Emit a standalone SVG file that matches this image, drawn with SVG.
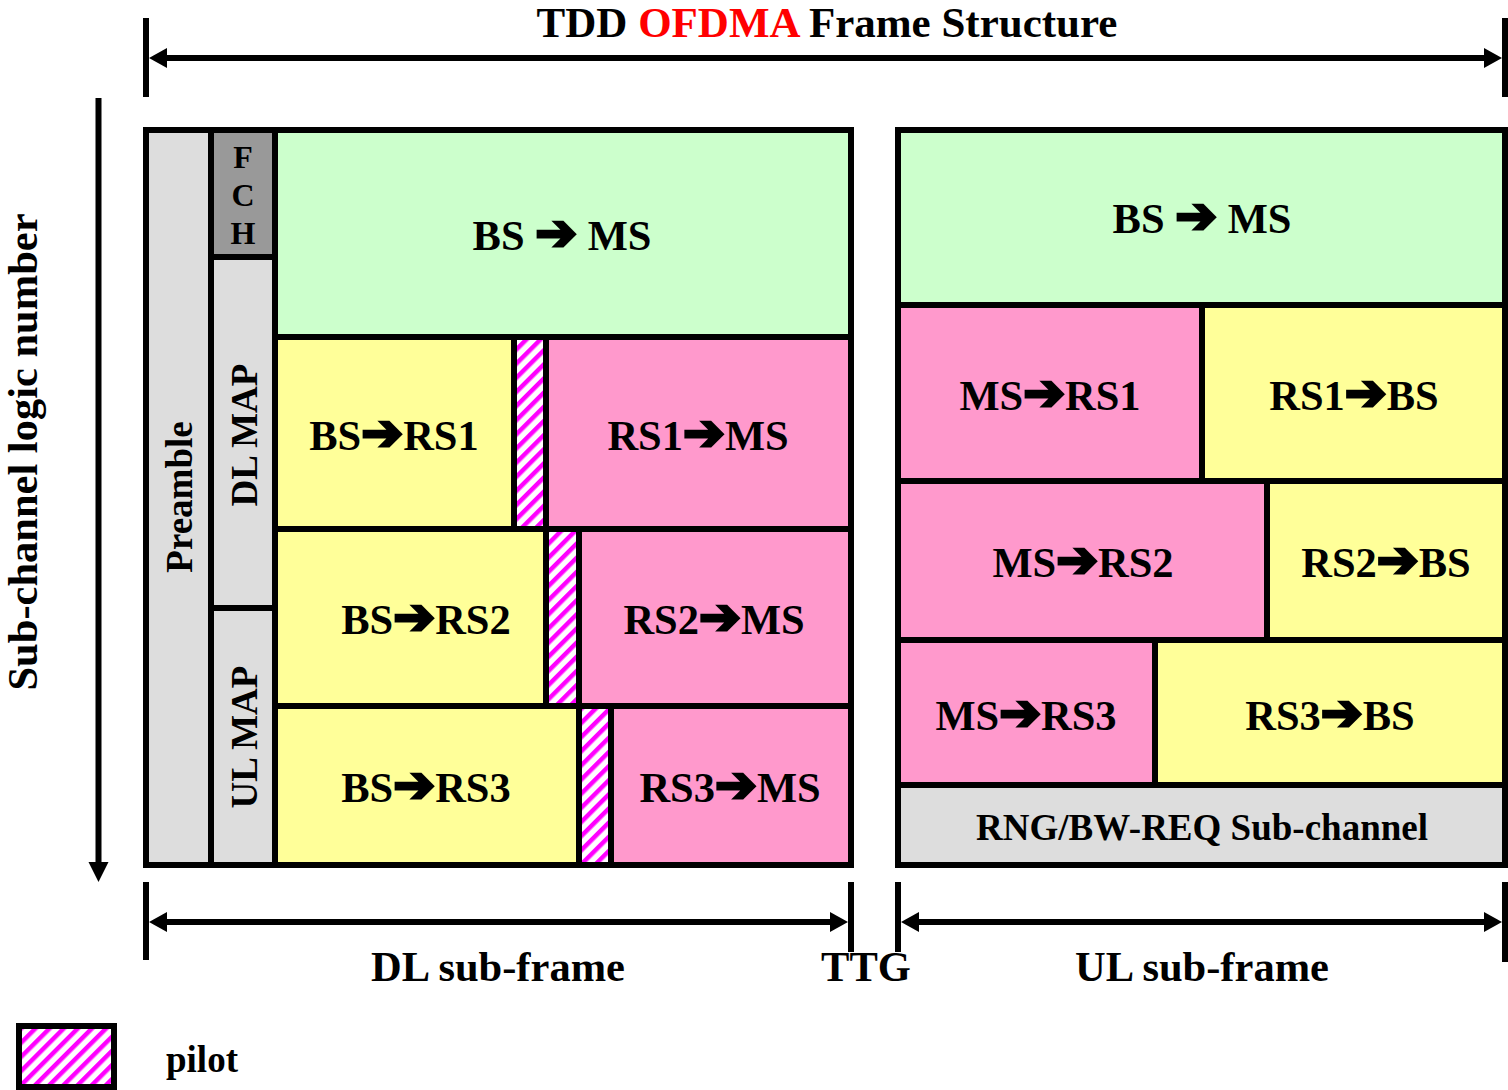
<svg xmlns="http://www.w3.org/2000/svg" width="1508" height="1090" viewBox="0 0 1508 1090">
<defs>
<style>
.b{stroke:#000;stroke-width:6}
.g{fill:#CCFFCC}.y{fill:#FFFF99}.p{fill:#FF99CC}.l{fill:#DDDDDD}.d{fill:#999999}.s{fill:url(#stripe)}
text{font-family:"Liberation Serif","Times New Roman",serif;font-weight:bold;fill:#000}
.t{font-size:42.5px;text-anchor:middle}
.m{font-size:37px;text-anchor:middle}
.f{font-size:32px;text-anchor:middle}
.ar{font-family:"DejaVu Sans",sans-serif;font-weight:bold;font-size:50px;stroke:#000;stroke-width:3;stroke-linejoin:miter}
.ln{stroke:#000;stroke-width:6;fill:none}
.hd{fill:#000}
</style>
<pattern id="stripe" width="10" height="10" patternUnits="userSpaceOnUse" patternTransform="rotate(45)">
<rect width="10" height="10" fill="#fff"/>
<rect width="4.5" height="10" fill="#FF00FF"/>
</pattern>
</defs>

<text class="t" x="827" y="37" style="font-size:43px">TDD <tspan fill="#FF0000">OFDMA</tspan> Frame Structure</text>

<g id="connectors">
<line class="ln" x1="146" y1="18" x2="146" y2="97"/>
<line class="ln" x1="1505" y1="18" x2="1505" y2="97"/>
<line class="ln" x1="160" y1="58" x2="1490" y2="58"/>
<path class="hd" d="M149,58 L167,48 L167,68 Z"/>
<path class="hd" d="M1502,58 L1484,48 L1484,68 Z"/>
<line class="ln" x1="98.5" y1="98" x2="98.5" y2="866"/>
<path class="hd" d="M98.5,882 L88.5,862 L108.5,862 Z"/>
<line class="ln" x1="146" y1="882" x2="146" y2="960"/>
<line class="ln" x1="851" y1="882" x2="851" y2="952"/>
<line class="ln" x1="898" y1="882" x2="898" y2="952"/>
<line class="ln" x1="1505" y1="882" x2="1505" y2="962"/>
<line class="ln" x1="160" y1="922" x2="836" y2="922"/>
<path class="hd" d="M149,922 L167,912 L167,932 Z"/>
<path class="hd" d="M848,922 L830,912 L830,932 Z"/>
<line class="ln" x1="912" y1="922" x2="1490" y2="922"/>
<path class="hd" d="M901,922 L919,912 L919,932 Z"/>
<path class="hd" d="M1502,922 L1484,912 L1484,932 Z"/>
</g>

<g id="preamble"><rect class="b l" x="146" y="130" width="65" height="735"/>
<text class="m" transform="translate(192,497) rotate(-90)">Preamble</text></g>
<g id="fch"><rect class="b d" x="211" y="130" width="64" height="127"/>
<text class="f" x="243" y="168">F</text>
<text class="f" x="243" y="206">C</text>
<text class="f" x="243" y="244">H</text></g>
<g id="dlmap"><rect class="b l" x="211" y="257" width="64" height="351"/>
<text class="m" transform="translate(257,435) rotate(-90)">DL MAP</text></g>
<g id="ulmap"><rect class="b l" x="211" y="608" width="64" height="257"/>
<text class="m" transform="translate(257,737) rotate(-90)">UL MAP</text></g>

<g id="dl-bs-ms"><rect class="b g" x="275" y="130" width="576" height="207"/>
<text class="t" x="562" y="250">BS <tspan class="ar">➔</tspan> MS</text></g>

<g id="dl-bs-rs1"><rect class="b y" x="275" y="337" width="239" height="192"/>
<text class="t" x="394" y="450">BS<tspan class="ar">➔</tspan>RS1</text></g>
<g id="pilot1"><rect class="b s" x="514" y="337" width="32" height="192"/></g>
<g id="dl-rs1-ms"><rect class="b p" x="546" y="337" width="305" height="192"/>
<text class="t" x="698" y="450">RS1<tspan class="ar">➔</tspan>MS</text></g>

<g id="dl-bs-rs2"><rect class="b y" x="275" y="529" width="271" height="177"/>
<text class="t" x="426" y="634">BS<tspan class="ar">➔</tspan>RS2</text></g>
<g id="pilot2"><rect class="b s" x="546" y="529" width="33" height="177"/></g>
<g id="dl-rs2-ms"><rect class="b p" x="579" y="529" width="272" height="177"/>
<text class="t" x="714" y="634">RS2<tspan class="ar">➔</tspan>MS</text></g>

<g id="dl-bs-rs3"><rect class="b y" x="275" y="706" width="304" height="159"/>
<text class="t" x="426" y="802">BS<tspan class="ar">➔</tspan>RS3</text></g>
<g id="pilot3"><rect class="b s" x="579" y="706" width="32" height="159"/></g>
<g id="dl-rs3-ms"><rect class="b p" x="611" y="706" width="240" height="159"/>
<text class="t" x="730" y="802">RS3<tspan class="ar">➔</tspan>MS</text></g>

<g id="ul-bs-ms"><rect class="b g" x="898" y="130" width="607" height="175"/>
<text class="t" x="1202" y="233">BS <tspan class="ar">➔</tspan> MS</text></g>
<g id="ul-ms-rs1"><rect class="b p" x="898" y="305" width="304" height="176"/>
<text class="t" x="1050" y="410">MS<tspan class="ar">➔</tspan>RS1</text></g>
<g id="ul-rs1-bs"><rect class="b y" x="1202" y="305" width="303" height="176"/>
<text class="t" x="1354" y="410">RS1<tspan class="ar">➔</tspan>BS</text></g>
<g id="ul-ms-rs2"><rect class="b p" x="898" y="481" width="369" height="159"/>
<text class="t" x="1083" y="577">MS<tspan class="ar">➔</tspan>RS2</text></g>
<g id="ul-rs2-bs"><rect class="b y" x="1267" y="481" width="238" height="159"/>
<text class="t" x="1386" y="577">RS2<tspan class="ar">➔</tspan>BS</text></g>
<g id="ul-ms-rs3"><rect class="b p" x="898" y="640" width="257" height="145"/>
<text class="t" x="1026" y="730">MS<tspan class="ar">➔</tspan>RS3</text></g>
<g id="ul-rs3-bs"><rect class="b y" x="1155" y="640" width="350" height="145"/>
<text class="t" x="1330" y="730">RS3<tspan class="ar">➔</tspan>BS</text></g>
<g id="ul-rng"><rect class="b l" x="898" y="785" width="607" height="80"/>
<text class="m" x="1202" y="840">RNG/BW-REQ Sub-channel</text></g>

<text class="t" transform="translate(37,452) rotate(-90)">Sub-channel logic number</text>
<text class="t" x="498" y="981">DL sub-frame</text>
<text class="t" x="866" y="981">TTG</text>
<text class="t" x="1202" y="981">UL sub-frame</text>

<g id="legend"><rect class="b s" x="19" y="1026" width="95" height="61"/>
<text style="font-size:37px" x="166" y="1072">pilot</text></g>
</svg>
